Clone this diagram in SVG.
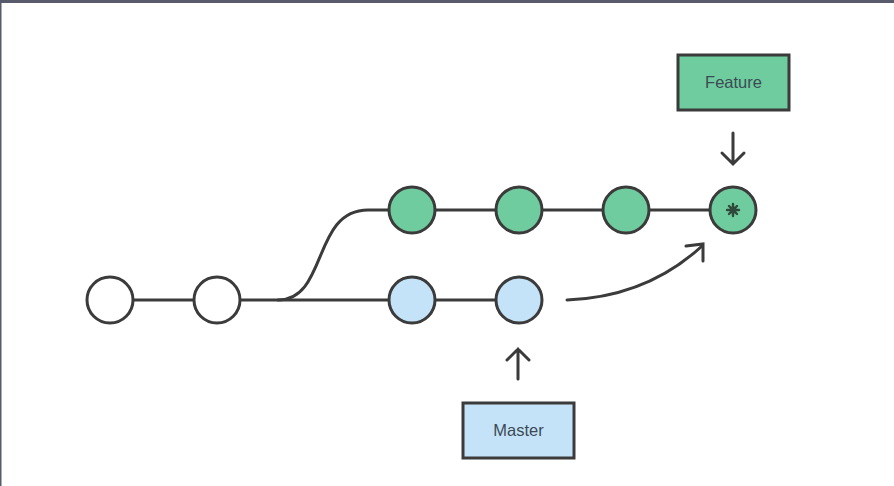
<svg xmlns="http://www.w3.org/2000/svg" width="894" height="486" viewBox="0 0 894 486">
<defs>
<style>
.edge{fill:none;stroke:#3b3b3b;stroke-width:3;stroke-linecap:round}
.c{stroke:#3b3b3b;stroke-width:3}
.w{fill:#ffffff}
.g{fill:#6fcc9e}
.b{fill:#c5e3f8}
.lbl{font-family:"Liberation Sans",Arial,sans-serif;font-size:16.5px;fill:#3c4a55;text-anchor:middle}
</style>
</defs>
<rect width="894" height="486" fill="#ffffff"/>
<rect x="0" y="0" width="894" height="3" fill="#575b6b"/>
<rect x="0" y="0" width="1.5" height="486" fill="#575b6b"/>
<g id="connectors">
<line class="edge" x1="133" y1="300" x2="194" y2="300"/>
<line class="edge" x1="240" y1="300" x2="389" y2="300"/>
<line class="edge" x1="435" y1="300" x2="496" y2="300"/>
<path class="edge" d="M 278 300 C 328 300 312 210 368 210 L 389 210"/>
<line class="edge" x1="435" y1="210" x2="496" y2="210"/>
<line class="edge" x1="542" y1="210" x2="603" y2="210"/>
<line class="edge" x1="649" y1="210" x2="710" y2="210"/>
<path class="edge" d="M 567 300 C 620 298 665 280 702 246"/>
<path class="edge" d="M 686 246 L 703 244 L 703 261" stroke-linejoin="miter"/>
<path class="edge" d="M 733 133 L 733 164 M 722 153 L 733 164 L 744 153"/>
<path class="edge" d="M 518 379 L 518 349 M 507 360 L 518 349 L 529 360"/>
</g>
<g id="c1"><circle class="c w" cx="110" cy="300" r="23"/></g>
<g id="c2"><circle class="c w" cx="217" cy="300" r="23"/></g>
<g id="f1"><circle class="c g" cx="412" cy="210" r="23"/></g>
<g id="f2"><circle class="c g" cx="519" cy="210" r="23"/></g>
<g id="f3"><circle class="c g" cx="626" cy="210" r="23"/></g>
<g id="f4"><circle class="c g" cx="733" cy="210" r="23"/>
<g stroke="#2f4a3c" stroke-width="2.4" stroke-linecap="round">
<line x1="733" y1="204" x2="733" y2="216"/>
<line x1="727" y1="210" x2="739" y2="210"/>
<line x1="729" y1="206" x2="737" y2="214"/>
<line x1="737" y1="206" x2="729" y2="214"/>
</g><circle cx="733" cy="210" r="3.5" fill="#2f4a3c"/></g>
<g id="m1"><circle class="c b" cx="412" cy="300" r="23"/></g>
<g id="m2"><circle class="c b" cx="519" cy="300" r="23"/></g>
<g id="feature"><rect x="678" y="55" width="111" height="55" class="c g"/><text class="lbl" x="733.5" y="88">Feature</text></g>
<g id="master"><rect x="463" y="403" width="111" height="55" class="c b"/><text class="lbl" x="518.5" y="436">Master</text></g>
</svg>
